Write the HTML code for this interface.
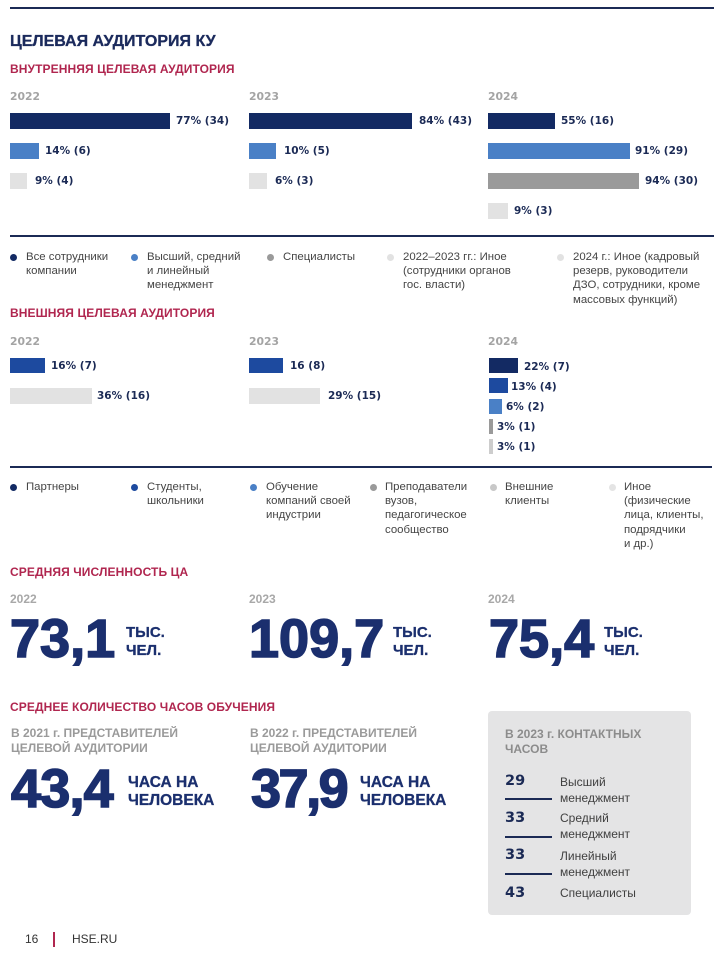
<!DOCTYPE html>
<html><head><meta charset="utf-8">
<style>
*{margin:0;padding:0;box-sizing:border-box}
body{width:724px;height:956px;background:#fff;position:relative;overflow:hidden;font-family:"Liberation Sans","Noto Sans CJK SC",sans-serif}
.a{position:absolute}
.t{position:absolute;white-space:nowrap}
.h1{font-weight:bold;font-size:16px;color:#1b2a5c;line-height:20px;-webkit-text-stroke:0.3px #1b2a5c}
.h2{font-weight:bold;font-size:12px;color:#b0264f;line-height:16px;letter-spacing:0.1px}
.yr{font-family:"DejaVu Sans",sans-serif;font-weight:bold;font-size:10.8px;color:#a4a4a4;line-height:14px}
.lb{font-family:"DejaVu Sans",sans-serif;font-weight:bold;font-size:10.5px;color:#1b2a55;line-height:14px}
.lg{font-size:11.4px;color:#454545;line-height:14.2px;white-space:nowrap}
.dot{position:absolute;width:7px;height:7px;border-radius:50%}
.big{font-weight:bold;font-size:54px;color:#1b2f6e;line-height:54px;letter-spacing:0px;-webkit-text-stroke:1.6px #1b2f6e}
.unit{font-weight:bold;font-size:15px;color:#1b2f6e;line-height:18px;-webkit-text-stroke:0.3px #1b2f6e}
.sub{font-weight:bold;font-size:12px;color:#9a9a9a;line-height:15px}
.num{font-family:"DejaVu Sans",sans-serif;font-weight:bold;font-size:14.5px;color:#1b2a55;line-height:18px}
.bl{font-size:12px;color:#404040;line-height:15.5px}
.ln{position:absolute;height:2px;background:#1b2a55}
</style></head><body>

<div class="a" style="left:10px;top:7px;width:704px;height:2px;background:#1b2a55"></div>
<div class="t h1" style="left:10px;top:32px">ЦЕЛЕВАЯ АУДИТОРИЯ КУ</div>
<div class="t h2" style="left:10px;top:61px">ВНУТРЕННЯЯ ЦЕЛЕВАЯ АУДИТОРИЯ</div>

<div class="t yr" style="left:10px;top:90px">2022</div>
<div class="t yr" style="left:249px;top:90px">2023</div>
<div class="t yr" style="left:488px;top:90px">2024</div>

<!-- internal 2022 -->
<div class="a" style="left:10px;top:113px;width:160px;height:16px;background:#132a63"></div>
<div class="t lb" style="left:176px;top:114px">77% (34)</div>
<div class="a" style="left:10px;top:143px;width:29px;height:16px;background:#4a80c6"></div>
<div class="t lb" style="left:45px;top:144px">14% (6)</div>
<div class="a" style="left:10px;top:173px;width:17px;height:16px;background:#e2e2e2"></div>
<div class="t lb" style="left:35px;top:174px">9% (4)</div>
<!-- internal 2023 -->
<div class="a" style="left:249px;top:113px;width:163px;height:16px;background:#132a63"></div>
<div class="t lb" style="left:419px;top:114px">84% (43)</div>
<div class="a" style="left:249px;top:143px;width:27px;height:16px;background:#4a80c6"></div>
<div class="t lb" style="left:284px;top:144px">10% (5)</div>
<div class="a" style="left:249px;top:173px;width:18px;height:16px;background:#e2e2e2"></div>
<div class="t lb" style="left:275px;top:174px">6% (3)</div>
<!-- internal 2024 -->
<div class="a" style="left:488px;top:113px;width:67px;height:16px;background:#132a63"></div>
<div class="t lb" style="left:561px;top:114px">55% (16)</div>
<div class="a" style="left:488px;top:143px;width:142px;height:16px;background:#4a80c6"></div>
<div class="t lb" style="left:635px;top:144px">91% (29)</div>
<div class="a" style="left:488px;top:173px;width:151px;height:16px;background:#9a9a9a"></div>
<div class="t lb" style="left:645px;top:174px">94% (30)</div>
<div class="a" style="left:488px;top:203px;width:20px;height:16px;background:#e2e2e2"></div>
<div class="t lb" style="left:514px;top:204px">9% (3)</div>

<div class="a" style="left:10px;top:235px;width:704px;height:2px;background:#1b2a55"></div>

<!-- legend 1 -->
<div class="dot" style="left:10px;top:254px;background:#132a63"></div>
<div class="t lg" style="left:26px;top:250px">Все сотрудники<br>компании</div>
<div class="dot" style="left:131px;top:254px;background:#4a80c6"></div>
<div class="t lg" style="left:147px;top:250px">Высший, средний<br>и линейный<br>менеджмент</div>
<div class="dot" style="left:267px;top:254px;background:#9a9a9a"></div>
<div class="t lg" style="left:283px;top:250px">Специалисты</div>
<div class="dot" style="left:387px;top:254px;background:#e2e2e2"></div>
<div class="t lg" style="left:403px;top:250px">2022–2023 гг.: Иное<br>(сотрудники органов<br>гос. власти)</div>
<div class="dot" style="left:557px;top:254px;background:#e2e2e2"></div>
<div class="t lg" style="left:573px;top:250px">2024 г.: Иное (кадровый<br>резерв, руководители<br>ДЗО, сотрудники, кроме<br>массовых функций)</div>

<div class="t h2" style="left:10px;top:305px">ВНЕШНЯЯ ЦЕЛЕВАЯ АУДИТОРИЯ</div>
<div class="t yr" style="left:10px;top:335px">2022</div>
<div class="t yr" style="left:249px;top:335px">2023</div>
<div class="t yr" style="left:488px;top:335px">2024</div>

<!-- external 2022 -->
<div class="a" style="left:10px;top:358px;width:35px;height:15px;background:#1d4a9f"></div>
<div class="t lb" style="left:51px;top:359px">16% (7)</div>
<div class="a" style="left:10px;top:388px;width:82px;height:16px;background:#e2e2e2"></div>
<div class="t lb" style="left:97px;top:389px">36% (16)</div>
<!-- external 2023 -->
<div class="a" style="left:249px;top:358px;width:34px;height:15px;background:#1d4a9f"></div>
<div class="t lb" style="left:290px;top:359px">16 (8)</div>
<div class="a" style="left:249px;top:388px;width:71px;height:16px;background:#e2e2e2"></div>
<div class="t lb" style="left:328px;top:389px">29% (15)</div>
<!-- external 2024 -->
<div class="a" style="left:489px;top:358px;width:29px;height:15px;background:#132a63"></div>
<div class="t lb" style="left:524px;top:360px">22% (7)</div>
<div class="a" style="left:489px;top:378px;width:19px;height:15px;background:#1d4a9f"></div>
<div class="t lb" style="left:511px;top:380px">13% (4)</div>
<div class="a" style="left:489px;top:399px;width:13px;height:15px;background:#4a80c6"></div>
<div class="t lb" style="left:506px;top:400px">6% (2)</div>
<div class="a" style="left:489px;top:419px;width:4px;height:15px;background:#9a9a9a"></div>
<div class="t lb" style="left:497px;top:420px">3% (1)</div>
<div class="a" style="left:489px;top:439px;width:4px;height:15px;background:#cdcdcd"></div>
<div class="t lb" style="left:497px;top:440px">3% (1)</div>

<div class="a" style="left:10px;top:466px;width:702px;height:2px;background:#1b2a55"></div>

<!-- legend 2 -->
<div class="dot" style="left:10px;top:484px;background:#132a63"></div>
<div class="t lg" style="left:26px;top:480px">Партнеры</div>
<div class="dot" style="left:131px;top:484px;background:#1d4a9f"></div>
<div class="t lg" style="left:147px;top:480px">Студенты,<br>школьники</div>
<div class="dot" style="left:250px;top:484px;background:#4a80c6"></div>
<div class="t lg" style="left:266px;top:480px">Обучение<br>компаний своей<br>индустрии</div>
<div class="dot" style="left:370px;top:484px;background:#9a9a9a"></div>
<div class="t lg" style="left:385px;top:480px">Преподаватели<br>вузов,<br>педагогическое<br>сообщество</div>
<div class="dot" style="left:490px;top:484px;background:#c8c8c8"></div>
<div class="t lg" style="left:505px;top:480px">Внешние<br>клиенты</div>
<div class="dot" style="left:609px;top:484px;background:#e4e4e4"></div>
<div class="t lg" style="left:624px;top:480px">Иное<br>(физические<br>лица, клиенты,<br>подрядчики<br>и др.)</div>

<!-- average count -->
<div class="t h2" style="left:10px;top:564px">СРЕДНЯЯ ЧИСЛЕННОСТЬ ЦА</div>
<div class="t" style="left:10px;top:591px;font-size:12px;font-weight:bold;color:#a8a8a8;line-height:16px">2022</div>
<div class="t" style="left:249px;top:591px;font-size:12px;font-weight:bold;color:#a8a8a8;line-height:16px">2023</div>
<div class="t" style="left:488px;top:591px;font-size:12px;font-weight:bold;color:#a8a8a8;line-height:16px">2024</div>

<div class="t big" style="left:10px;top:612px">73,1</div>
<div class="t unit" style="left:126px;top:624px">ТЫС.<br>ЧЕЛ.</div>
<div class="t big" style="left:249px;top:612px">109,7</div>
<div class="t unit" style="left:393px;top:624px">ТЫС.<br>ЧЕЛ.</div>
<div class="t big" style="left:489px;top:612px">75,4</div>
<div class="t unit" style="left:604px;top:624px">ТЫС.<br>ЧЕЛ.</div>

<!-- hours -->
<div class="t h2" style="left:10px;top:699px">СРЕДНЕЕ КОЛИЧЕСТВО ЧАСОВ ОБУЧЕНИЯ</div>
<div class="t sub" style="left:11px;top:726px">В 2021 г. ПРЕДСТАВИТЕЛЕЙ<br>ЦЕЛЕВОЙ АУДИТОРИИ</div>
<div class="t sub" style="left:250px;top:726px">В 2022 г. ПРЕДСТАВИТЕЛЕЙ<br>ЦЕЛЕВОЙ АУДИТОРИИ</div>
<div class="t big" style="left:11px;top:762px;letter-spacing:-0.8px">43,4</div>
<div class="t unit" style="left:128px;top:774px;font-size:15.5px">ЧАСА НА<br>ЧЕЛОВЕКА</div>
<div class="t big" style="left:251px;top:762px;letter-spacing:-2.5px">37,9</div>
<div class="t unit" style="left:360px;top:774px;font-size:15.5px">ЧАСА НА<br>ЧЕЛОВЕКА</div>

<!-- box -->
<div class="a" style="left:488px;top:711px;width:203px;height:204px;background:#e4e4e5;border-radius:4px"></div>
<div class="t sub" style="left:505px;top:727px;color:#8c8c8c">В 2023 г. КОНТАКТНЫХ<br>ЧАСОВ</div>

<div class="t num" style="left:505px;top:772px">29</div>
<div class="t bl" style="left:560px;top:775px">Высший<br>менеджмент</div>
<div class="ln" style="left:505px;top:798px;width:47px"></div>

<div class="t num" style="left:505px;top:809px">33</div>
<div class="t bl" style="left:560px;top:811px">Средний<br>менеджмент</div>
<div class="ln" style="left:505px;top:836px;width:47px"></div>

<div class="t num" style="left:505px;top:846px">33</div>
<div class="t bl" style="left:560px;top:849px">Линейный<br>менеджмент</div>
<div class="ln" style="left:505px;top:873px;width:47px"></div>

<div class="t num" style="left:505px;top:884px">43</div>
<div class="t bl" style="left:560px;top:886px">Специалисты</div>

<!-- footer -->
<div class="t" style="left:25px;top:931px;font-size:12px;color:#333;line-height:16px">16</div>
<div class="a" style="left:53px;top:932px;width:2px;height:15px;background:#b0264f"></div>
<div class="t" style="left:72px;top:931px;font-size:12px;color:#333;line-height:16px">HSE.RU</div>

</body></html>
